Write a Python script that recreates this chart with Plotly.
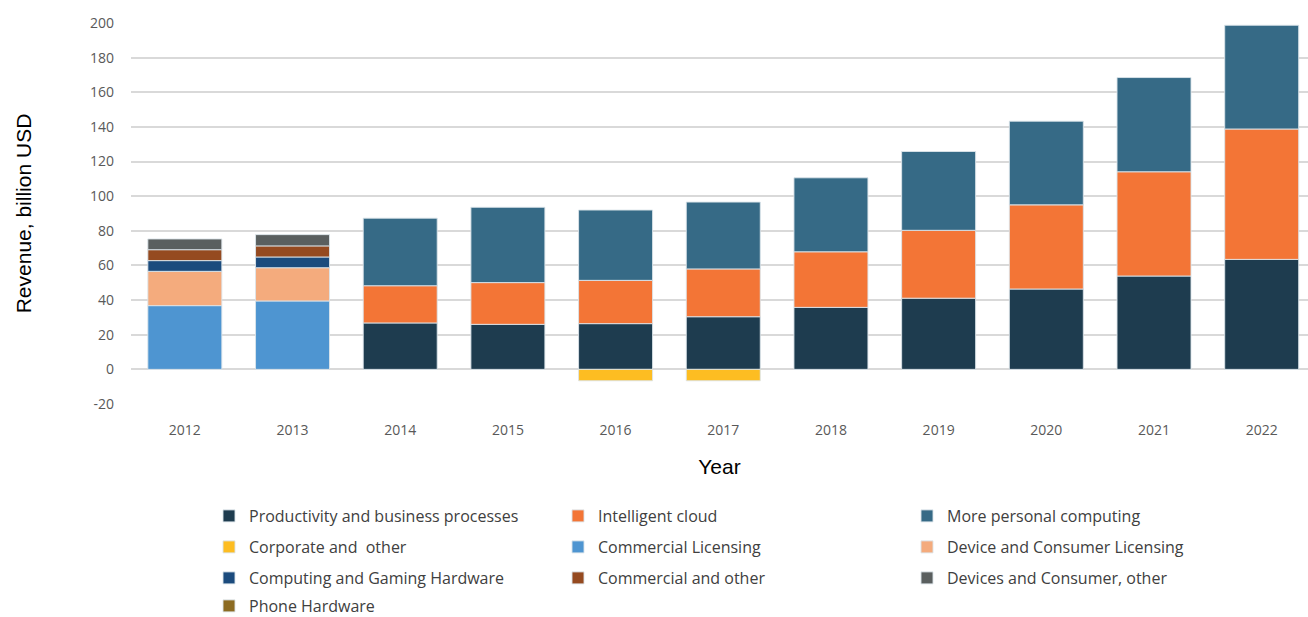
import plotly.graph_objects as go

# Fiscal years
years = ["2012", "2013", "2014", "2015", "2016", "2017", "2018", "2019", "2020", "2021", "2022"]

# Segment revenue, billion USD (None = segment not reported that year)
productivity_business = [None, None, 26.8, 26.0, 26.4, 30.4, 35.8, 41.1, 46.4, 53.9, 63.5]
intelligent_cloud = [None, None, 21.5, 24.1, 25.0, 27.6, 32.1, 39.2, 48.6, 60.2, 75.3]
more_personal_computing = [None, None, 39.0, 43.5, 40.6, 38.6, 42.7, 45.5, 48.3, 54.4, 59.9]
corporate_other = [None, None, None, None, -6.6, -6.6, None, None, None, None, None]
commercial_licensing = [36.8, 39.5, None, None, None, None, None, None, None, None, None]
device_consumer_licensing = [19.8, 19.2, None, None, None, None, None, None, None, None, None]
computing_gaming_hw = [6.2, 6.2, None, None, None, None, None, None, None, None, None]
commercial_other = [6.3, 6.4, None, None, None, None, None, None, None, None, None]
devices_consumer_other = [6.2, 6.5, None, None, None, None, None, None, None, None, None]
phone_hardware = [None, None, None, None, None, None, None, None, None, None, None]

y_ticks = [-20, 0, 20, 40, 60, 80, 100, 120, 140, 160, 180, 200]
y_tick_labels = [str(v) for v in y_ticks]

series = [
    ("Productivity and business processes", productivity_business, "#1e3c4f", "legend"),
    ("Intelligent cloud", intelligent_cloud, "#f37536", "legend"),
    ("More personal computing", more_personal_computing, "#366a86", "legend"),
    ("Corporate and  other", corporate_other, "#fdbd22", "legend2"),
    ("Commercial Licensing", commercial_licensing, "#4e95d1", "legend2"),
    ("Device and Consumer Licensing", device_consumer_licensing, "#f4ab7d", "legend2"),
    ("Computing and Gaming Hardware", computing_gaming_hw, "#1b4b7d", "legend3"),
    ("Commercial and other", commercial_other, "#954a20", "legend3"),
    ("Devices and Consumer, other", devices_consumer_other, "#5a5f5f", "legend3"),
    ("Phone Hardware", phone_hardware, "#8c6b22", "legend4"),
]

fig = go.Figure()
for name, values, color, leg in series:
    fig.add_trace(go.Bar(
        x=years, y=values, name=name,
        marker=dict(color=color, line=dict(color="rgba(220,228,234,0.9)", width=1)),
        legend=leg,
        showlegend=True,
    ))

W, H = 1308, 617
plot_top, plot_bottom = 23, 404

legend_font = dict(family="Open Sans, sans-serif", size=16, color="#404040")
legend_common = dict(
    orientation="h", xanchor="left", yanchor="middle",
    xref="container", yref="container",
    entrywidth=304, entrywidthmode="pixels",
    font=legend_font, bgcolor="rgba(0,0,0,0)", borderwidth=0,
    traceorder="normal", itemclick=False, itemdoubleclick=False,
)

def row_y(px):
    return (H - px) / H

legend_x = 209 / W

fig.update_layout(
    width=W, height=H,
    margin=dict(l=131, r=0, t=plot_top, b=H - plot_bottom, autoexpand=False),
    paper_bgcolor="white", plot_bgcolor="white",
    barmode="relative", bargap=0.313,
    xaxis=dict(
        type="category", range=[-0.5, 10.43],
        showgrid=False, showline=False, zeroline=False,
        ticks="", ticklabelstandoff=16,
        tickfont=dict(family="Open Sans, sans-serif", size=14, color="#595959"),
        title=dict(text="Year", font=dict(family="Liberation Sans, Arial, sans-serif", size=21, color="#000000"), standoff=21),
    ),
    yaxis=dict(
        range=[-20, 200], tickvals=y_ticks, ticktext=y_tick_labels,
        showgrid=True, gridcolor="#d9d9d9", gridwidth=1.5,
        zeroline=True, zerolinecolor="#d9d9d9", zerolinewidth=1.5,
        showline=False, ticks="", ticklabelstandoff=16,
        tickfont=dict(family="Open Sans, sans-serif", size=14, color="#595959"),
        title=dict(text="Revenue, billion USD", font=dict(family="Liberation Sans, Arial, sans-serif", size=21, color="#000000"), standoff=52),
    ),
    legend=dict(x=legend_x, y=row_y(516), **legend_common),
    legend2=dict(x=legend_x, y=row_y(547), **legend_common),
    legend3=dict(x=legend_x, y=row_y(578), **legend_common),
    legend4=dict(x=legend_x, y=row_y(606), **legend_common),
    showlegend=True,
)

fig.write_html("out.html")
